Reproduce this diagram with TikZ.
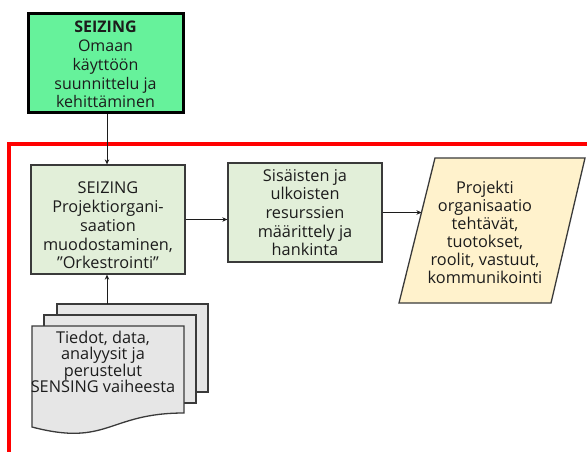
\documentclass[tikz,border=0pt]{standalone}
\usepackage{fontspec}
\setmainfont{Open Sans}
\usetikzlibrary{arrows.meta}
\definecolor{mint}{HTML}{66F29B}
\definecolor{sage}{HTML}{E2EFD9}
\definecolor{cream}{HTML}{FFF2CC}
\definecolor{paper}{HTML}{E6E6E6}
\definecolor{ink}{HTML}{1C1C1C}
\definecolor{edge}{HTML}{3A3A3A}
\tikzset{
  x=1pt, y=-1pt,
  txt/.style={align=center, text=ink, inner sep=0pt,
    font=\fontsize{16.3}{18.7}\selectfont},
  doctxt/.style={align=center, text=ink, inner sep=0pt,
    font=\fontsize{16.3}{16.3}\selectfont},
  procbox/.style={draw=edge, line width=1.3pt, fill=sage, inner sep=0pt},
  arr/.style={draw=ink, line width=1pt, -{Stealth[length=5pt,width=4.5pt]}},
}
\begin{document}
\begin{tikzpicture}
\path[clip] (0,0) rectangle (587,451);
\fill[white] (0,0) rectangle (587,451);

% red frame of the organisation phase (runs past the page edges)
\draw[red, line width=3.6pt] (9,470) -- (9,144) -- (610,144);

% top box
\node[draw=black, line width=3pt, fill=mint, minimum width=155pt, minimum height=99pt,
      inner sep=0pt] (b1) at (105.5,62.5) {};
\node[txt, font=\fontsize{16}{18.8}\selectfont] (t1) at (105.5,64.5)
  {\textbf{SEIZING}\\Omaan\\käyttöön\\suunnittelu ja\\kehittäminen};

% process boxes
\node[procbox, minimum width=154pt, minimum height=109pt] (b2) at (108,219.5) {};
\node[txt] (t2) at (108,225.5) {SEIZING\\Projektiorgani-\\saation\\muodostaminen,\\”Orkestrointi”};

\node[procbox, minimum width=154pt, minimum height=99pt] (b3) at (305,212.5) {};
\node[txt] (t3) at (305,212.5) {Sisäisten ja\\ulkoisten\\resurssien\\määrittely ja\\hankinta};

% output parallelogram
\draw[draw=edge, line width=1.3pt, fill=cream]
  (435,158) -- (585,158) -- (551,303) -- (399,303) -- cycle;
\coordinate (pin) at (421.5,212.5);
\node[txt, font=\fontsize{16.3}{18}\selectfont] (t4) at (485,232)
  {Projekti\\organisaatio\\tehtävät,\\tuotokset,\\roolit, vastuut,\\kommunikointi};

% stack of source documents
\draw[draw=edge, line width=1.3pt, fill=paper] (57,304) rectangle (208,392);
\draw[draw=edge, line width=1.3pt, fill=paper] (44,315) rectangle (196,403);
\draw[draw=edge, line width=1.3pt, fill=paper]
  (32,326) -- (184,326) -- (184,413)
  .. controls (108,413) and (108,447) .. (32,427) -- cycle;
\coordinate (docin) at (107,304);
\node[doctxt] (t5) at (103,362) {Tiedot, data,\\analyysit ja\\perustelut\\SENSING vaiheesta};

% connectors
\draw[arr] (b1.south -| docin) -- (b2.north -| docin);
\draw[arr] (b2.east) -- (b2.east -| b3.west);
\draw[arr] (b3.east) -- (pin);
\draw[arr] (docin) -- (b2.south -| docin);
\end{tikzpicture}
\end{document}
